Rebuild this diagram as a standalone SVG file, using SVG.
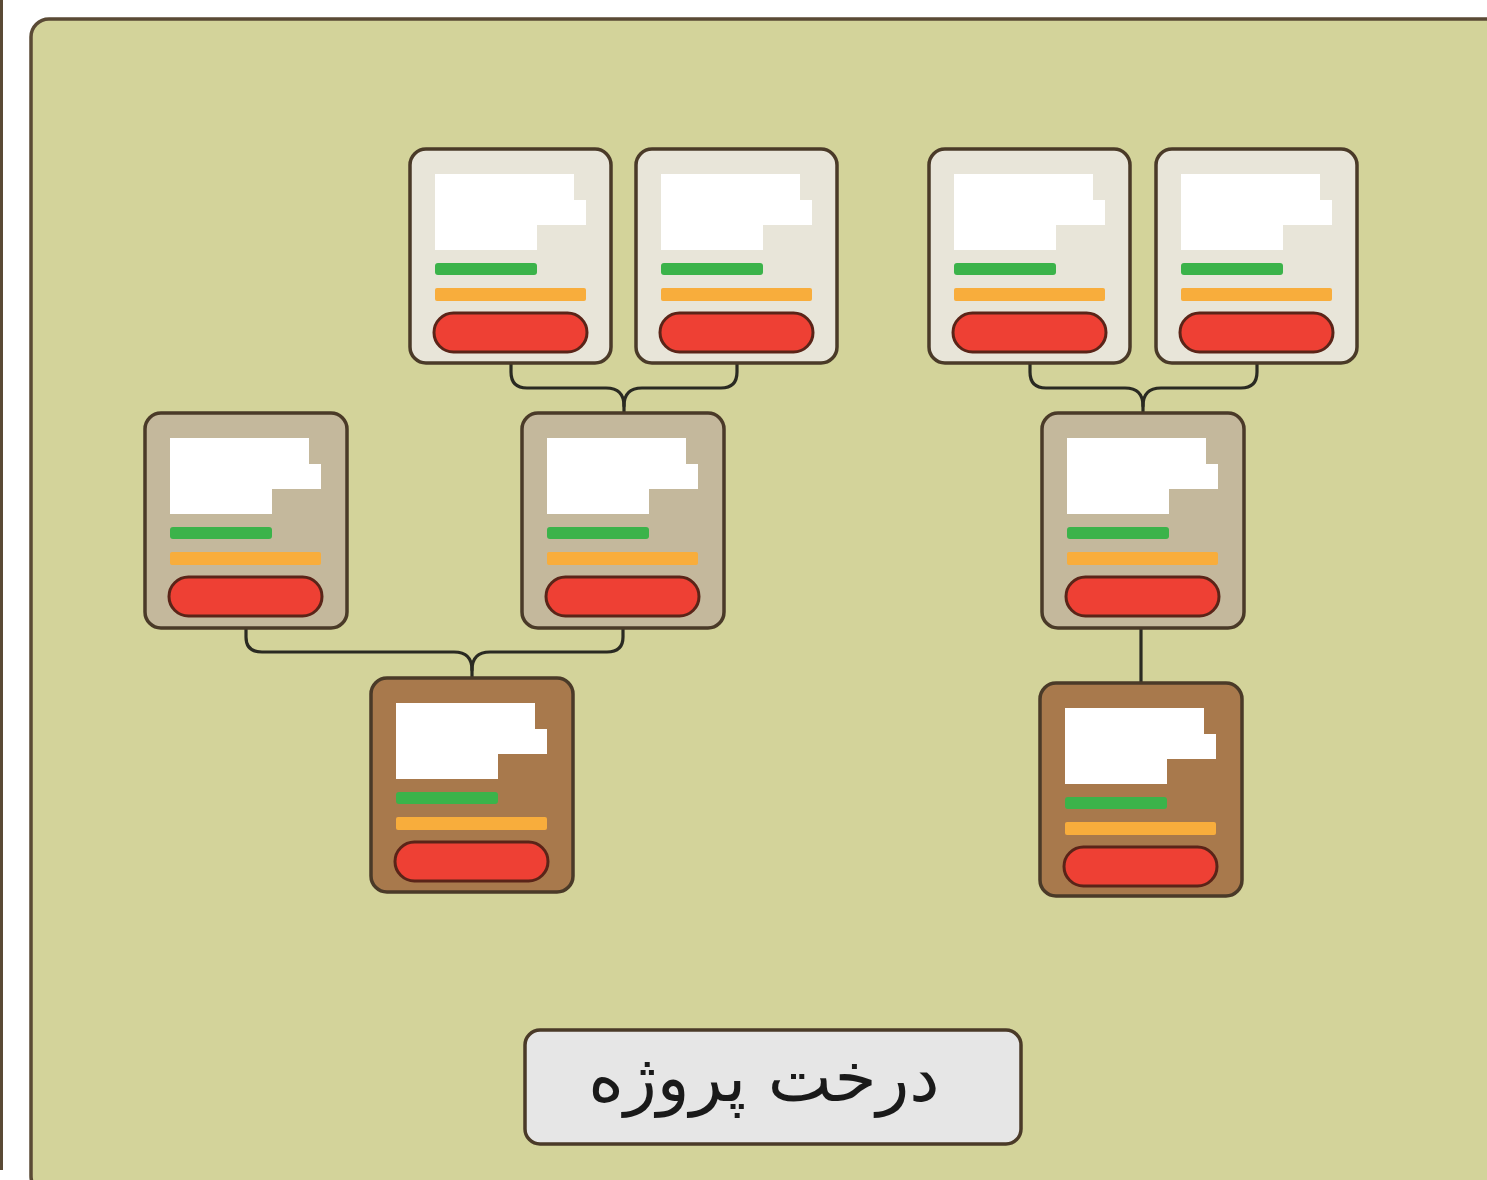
<svg xmlns="http://www.w3.org/2000/svg" xmlns:xlink="http://www.w3.org/1999/xlink" width="1487" height="1180" viewBox="0 0 1487 1180">
<style>
.panel{fill:#d3d39a;stroke:#5a4a35;stroke-width:3.5}
.node{stroke:#4a3a28;stroke-width:3.5}
.light{fill:#e8e5d9}
.tan{fill:#c4b89c}
.brown{fill:#a8794c}
.txt{fill:#ffffff}
.green{fill:#3bb34a}
.orange{fill:#f8ad3c}
.pill{fill:#ee4034;stroke:#5a2418;stroke-width:3}
.conn{fill:none;stroke:#2a2a22;stroke-width:3.2;stroke-linecap:round;stroke-linejoin:round}
.label{fill:#e6e6e6;stroke:#4a3a28;stroke-width:3.5}
.labtxt{font-family:"DejaVu Sans","Noto Sans",sans-serif;font-size:68px;fill:#1a1a1a}
</style>
<defs>
<g id="inner">
<polygon class="txt" points="25,25 164,25 164,51 176,51 176,76 127,76 127,101 25,101"/>
<rect class="green" x="25" y="114" width="102" height="12" rx="3"/>
<rect class="orange" x="25" y="139" width="151" height="13" rx="2"/>
<rect class="pill" x="24" y="164" width="153" height="39" rx="19.5"/>
</g>
</defs>
<rect width="1487" height="1180" fill="#ffffff"/>
<line x1="1.5" y1="0" x2="1.5" y2="1170" stroke="#5a4a35" stroke-width="3"/>
<rect class="panel" x="31" y="19" width="1500" height="1175" rx="18"/>
<g id="connectors">
<path class="conn" d="M511,363 V372 Q511,388 527,388 H606 Q624,388 624,406 V413"/>
<path class="conn" d="M737,363 V372 Q737,388 721,388 H642 Q624,388 624,406"/>
<path class="conn" d="M1030,363 V372 Q1030,388 1046,388 H1125 Q1143,388 1143,406 V413"/>
<path class="conn" d="M1257,363 V372 Q1257,388 1241,388 H1161 Q1143,388 1143,406"/>
<path class="conn" d="M246,628 V637 Q246,652 262,652 H454 Q472,652 472,670 V678"/>
<path class="conn" d="M623,628 V637 Q623,652 607,652 H490 Q472,652 472,670"/>
<path class="conn" d="M1141,628 V683"/>
</g>
<g id="n1" transform="translate(410,149)"><rect class="node light" x="0" y="0" width="201" height="214" rx="16"/><use xlink:href="#inner"/></g>
<g id="n2" transform="translate(636,149)"><rect class="node light" x="0" y="0" width="201" height="214" rx="16"/><use xlink:href="#inner"/></g>
<g id="n3" transform="translate(929,149)"><rect class="node light" x="0" y="0" width="201" height="214" rx="16"/><use xlink:href="#inner"/></g>
<g id="n4" transform="translate(1156,149)"><rect class="node light" x="0" y="0" width="201" height="214" rx="16"/><use xlink:href="#inner"/></g>
<g id="m1" transform="translate(145,413)"><rect class="node tan" x="0" y="0" width="202" height="215" rx="16"/><use xlink:href="#inner"/></g>
<g id="m2" transform="translate(522,413)"><rect class="node tan" x="0" y="0" width="202" height="215" rx="16"/><use xlink:href="#inner"/></g>
<g id="m3" transform="translate(1042,413)"><rect class="node tan" x="0" y="0" width="202" height="215" rx="16"/><use xlink:href="#inner"/></g>
<g id="b1" transform="translate(371,678)"><rect class="node brown" x="0" y="0" width="202" height="214" rx="16"/><use xlink:href="#inner"/></g>
<g id="b2" transform="translate(1040,683)"><rect class="node brown" x="0" y="0" width="202" height="213" rx="16"/><use xlink:href="#inner"/></g>
<g id="title">
<rect class="label" x="525" y="1030" width="496" height="114" rx="15"/>
<text class="labtxt" x="764" y="1101" text-anchor="middle" direction="rtl">درخت پروژه</text>
</g>
</svg>
